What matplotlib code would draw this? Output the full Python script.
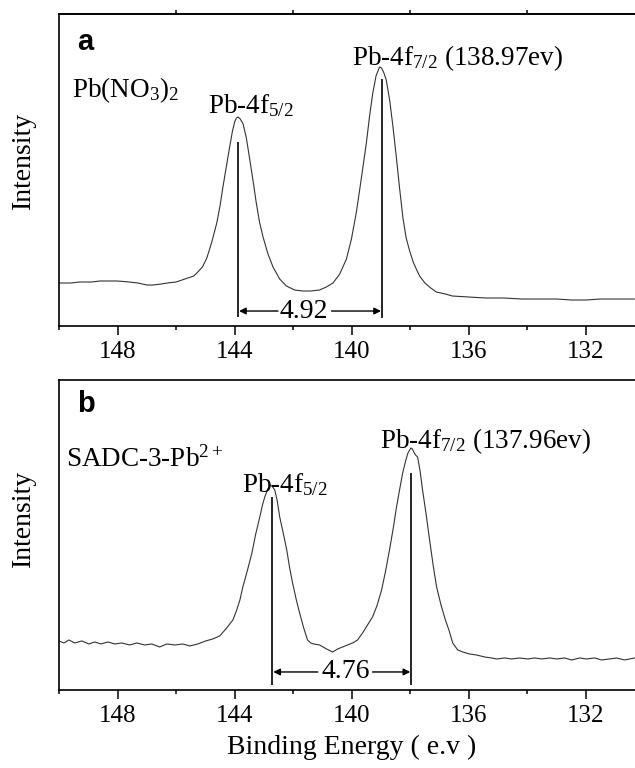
import matplotlib
matplotlib.use('Agg')
import matplotlib.pyplot as plt
import numpy as np

plt.rcParams['font.family'] = ['Liberation Serif', 'DejaVu Serif']
plt.rcParams['mathtext.fontset'] = 'custom'
plt.rcParams['mathtext.rm'] = 'Liberation Serif'
plt.rcParams['mathtext.it'] = 'Liberation Serif'
plt.rcParams['mathtext.bf'] = 'Liberation Serif:bold'

# ---- panel a : Pb(NO3)2 ----
energy_a = [150.0, 149.6, 149.3, 148.9, 148.6, 148.3, 148.0, 147.6, 147.3, 147.0,
            146.8, 146.5, 146.3, 146.0, 145.8, 145.6, 145.4, 145.29, 145.1, 144.95,
            144.78, 144.61, 144.50, 144.40, 144.28, 144.17, 144.08, 144.00, 143.94, 143.88,
            143.81, 143.71, 143.60, 143.48, 143.37, 143.26, 143.15, 143.03, 142.86, 142.69,
            142.46, 142.23, 141.95, 141.67, 141.40, 141.10, 140.87, 140.64, 140.41, 140.18,
            140.01, 139.84, 139.67, 139.50, 139.39, 139.28, 139.17, 139.05, 138.98, 138.90,
            138.82, 138.70, 138.59, 138.48, 138.37, 138.25, 138.14, 138.02, 137.90, 137.78,
            137.68, 137.50, 137.30, 137.11, 136.80, 136.56, 136.0, 135.41, 134.8, 134.2,
            133.70, 133.0, 132.5, 132.0, 131.5, 131.0, 130.35]
counts_a = [43, 43, 44, 44, 45, 45, 45, 44, 43, 41,
            41, 42, 43, 44, 46, 48, 50, 53, 59, 68,
            84, 103, 120, 139, 160, 179, 194, 204, 208, 209,
            207, 202, 188, 166, 145, 123, 104, 89, 72, 59,
            47, 40, 36, 35, 35, 36, 39, 43, 52, 67,
            87, 114, 148, 183, 210, 233, 250, 259, 258, 253,
            246, 225, 199, 170, 139, 108, 88, 75, 64, 56,
            50, 43, 38, 34, 32, 30, 29, 28, 28, 27,
            27, 27, 26, 26, 27, 27, 27]

# ---- panel b : SADC-3-Pb2+ ----
energy_b = [150.0, 149.83, 149.66, 149.46, 149.22, 148.98, 148.78, 148.57, 148.33, 148.09,
            147.86, 147.58, 147.34, 147.07, 146.83, 146.56, 146.32, 146.04, 145.77, 145.53,
            145.26, 144.99, 144.75, 144.51, 144.30, 144.06, 143.94, 143.82, 143.72, 143.56,
            143.41, 143.28, 143.14, 143.05, 142.97, 142.87, 142.78, 142.70, 142.63, 142.55,
            142.46, 142.34, 142.22, 142.12, 142.02, 141.90, 141.78, 141.64, 141.51, 141.40,
            141.30, 141.10, 140.86, 140.65, 140.48, 140.31, 140.14, 139.97, 139.80, 139.63,
            139.46, 139.29, 139.14, 138.98, 138.85, 138.71, 138.58, 138.47, 138.36, 138.26,
            138.16, 138.08, 137.98, 137.93, 137.88, 137.82, 137.75, 137.67, 137.58, 137.46,
            137.34, 137.22, 137.10, 136.95, 136.80, 136.68, 136.55, 136.38, 136.21, 135.98,
            135.74, 135.46, 135.22, 135.05, 134.78, 134.54, 134.27, 133.99, 133.75, 133.51,
            133.24, 133.00, 132.73, 132.49, 132.21, 131.98, 131.70, 131.47, 131.19, 130.95,
            130.68, 130.34]
counts_b = [49, 47, 50, 47, 49, 46, 48, 46, 48, 46,
            47, 45, 47, 45, 46, 43, 46, 45, 46, 44,
            46, 49, 51, 54, 61, 70, 79, 90, 103, 120,
            137, 156, 173, 185, 193, 201, 205, 203, 200, 190,
            173, 157, 140, 122, 107, 91, 77, 62, 50, 47,
            46, 45, 41, 38, 41, 43, 45, 47, 50, 57,
            65, 73, 84, 100, 118, 140, 162, 183, 201, 217,
            229, 237, 242, 241, 238, 235, 233, 220, 200, 176,
            150, 125, 103, 85, 70, 60, 47, 40, 38, 36,
            35, 33, 32, 31, 32, 31, 32, 31, 32, 31,
            32, 31, 32, 30, 32, 31, 32, 30, 31, 32,
            30, 32]

peaks_a = [143.89, 138.97]
peaks_b = [142.72, 137.96]

fig = plt.figure(figsize=(6.35, 7.68), dpi=100)
ax1 = fig.add_axes([0.0929, 0.5755, 0.922, 0.4063])
ax2 = fig.add_axes([0.0929, 0.1016, 0.922, 0.4036])

for ax, ly in ((ax1, 0.53), (ax2, 0.555)):
    ax.set_xlim(150, 130)
    ax.set_yticks([])
    ax.set_xticks([148, 144, 140, 136, 132])
    ax.set_xticks([150, 146, 142, 138, 134], minor=True)
    ax.tick_params(axis='x', which='major', direction='out', length=6.5, width=1.1,
                   labelsize=18, pad=4)
    ax.tick_params(axis='x', which='minor', direction='out', length=3, width=1.1)
    for s in ax.spines.values():
        s.set_linewidth(1.2)
    ax.set_ylabel('Intensity', fontsize=20)
    ax.yaxis.set_label_coords(-0.04, ly)

ax1.set_ylim(0, 312)
ax2.set_ylim(0, 310)

ax1.plot(energy_a, counts_a, color='#333333', lw=0.8)
ax2.plot(energy_b, counts_b, color='#333333', lw=0.8)

# top minor ticks only on panel a
sec = ax1.secondary_xaxis('top')
sec.set_xticks([146, 142, 138, 134])
sec.tick_params(direction='out', length=3, width=1.1, labeltop=False)
sec.spines['top'].set_linewidth(1.2)

# peak marker lines
ax1.vlines(peaks_a[0], 9, 184, color='black', lw=1.2)
ax1.vlines(peaks_a[1], 8, 247, color='black', lw=1.2)
ax2.vlines(peaks_b[0], 5, 193, color='black', lw=1.2)
ax2.vlines(peaks_b[1], 5, 217, color='black', lw=1.2)

arw = dict(arrowstyle='-|>', color='black', lw=1.0, mutation_scale=10, shrinkA=0, shrinkB=0)

# labels panel a
ax1.text(0.031, 0.955, 'a', transform=ax1.transAxes, fontsize=21, fontweight='bold',
         family='Liberation Sans', va='top', ha='left')
ax1.text(149.56, 229, r'Pb(NO$_3$)$_2$', fontsize=19.5, va='baseline')
ax1.text(144.92, 213, r'Pb-4f$_{5/2}$', fontsize=19.5, va='baseline')
ax1.text(140.0, 261, r'Pb-4f$_{7/2}$ (138.97ev)', fontsize=19.5, va='baseline')
ax1.text(141.64, 15, '4.92', fontsize=20, ha='center', va='center')
ax1.annotate('', xy=(143.85, 15), xytext=(142.52, 15), arrowprops=arw)
ax1.annotate('', xy=(139.0, 15), xytext=(140.69, 15), arrowprops=arw)

# labels panel b
ax2.text(0.031, 0.968, 'b', transform=ax2.transAxes, fontsize=21, fontweight='bold',
         family='Liberation Sans', va='top', ha='left')
ax2.text(149.76, 223, r'SADC-3-Pb$^{2+}$', fontsize=19.5, va='baseline')
ax2.text(143.76, 198, r'Pb-4f$_{5/2}$', fontsize=19.5, va='baseline')
ax2.text(139.05, 242, r'Pb-4f$_{7/2}$ (137.96ev)', fontsize=19.5, va='baseline')
ax2.text(140.21, 18, '4.76', fontsize=20, ha='center', va='center')
ax2.annotate('', xy=(142.68, 18), xytext=(141.16, 18), arrowprops=arw)
ax2.annotate('', xy=(138.0, 18), xytext=(139.29, 18), arrowprops=arw)

ax2.set_xlabel('Binding Energy ( e.v )', fontsize=20, labelpad=6)

fig.savefig('out.png', dpi=100)
